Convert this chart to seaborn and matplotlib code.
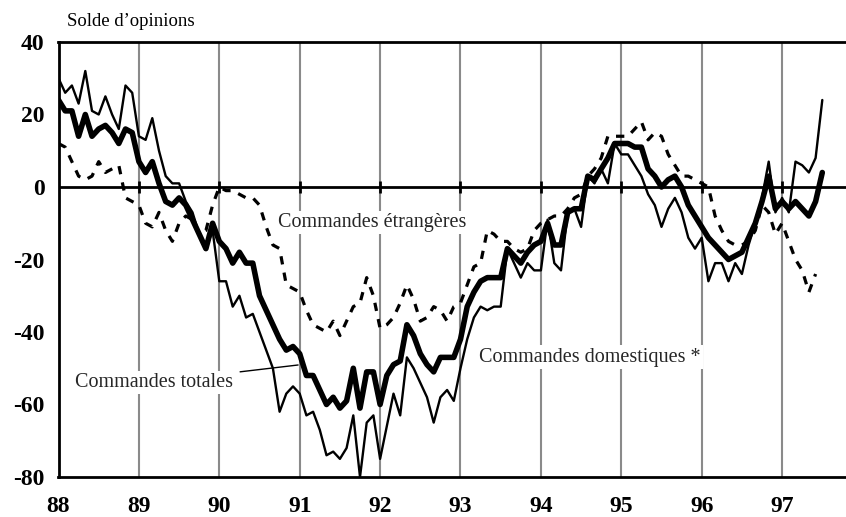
import matplotlib
matplotlib.use("Agg")
import matplotlib.pyplot as plt
import numpy as np
import pandas as pd
import seaborn as sns

# ── Data (monthly balances of opinion, Jan 1988 → mid 1997) ──────────────────
start_year = 88
total_orders = [
    24, 21, 21, 14, 20, 14, 16, 17, 15, 12, 16, 15,
    7, 4, 7, 1, -4, -5, -3, -5, -9, -13, -17, -10,
    -15, -17, -21, -18, -21, -21, -30, -34, -38, -42, -45, -44,
    -46, -52, -52, -56, -60, -58, -61, -59, -50, -61, -51, -51,
    -60, -52, -49, -48, -38, -41, -46, -49, -51, -47, -47, -47,
    -42, -33, -29, -26, -25, -25, -25, -17, -19, -21, -18, -16,
    -15, -10, -16, -16, -7, -6, -6, 3, 2, 5, 8, 12,
    12, 12, 11, 11, 5, 3, 0, 2, 3, 0, -5, -8,
    -11, -14, -16, -18, -20, -19, -18, -14, -10, -4, 3, -6,
    -4, -6, -4, -6, -8, -4, 4,
]
domestic_orders = [
    30, 26, 28, 23, 32, 21, 20, 25, 20, 16, 28, 26,
    14, 13, 19, 10, 3, 1, 1, -4, -7, -13, -17, -12,
    -26, -26, -33, -30, -36, -35, -40, -45, -50, -62, -57, -55,
    -57, -63, -62, -67, -74, -73, -75, -72, -63, -80, -65, -63,
    -75, -66, -57, -63, -47, -50, -54, -58, -65, -58, -56, -59,
    -50, -42, -36, -33, -34, -33, -33, -17, -21, -25, -21, -23,
    -23, -9, -21, -23, -7, -6, -11, 3, 1, 5, 1, 12,
    9, 9, 6, 3, -2, -5, -11, -6, -3, -7, -14, -17,
    -14, -26, -21, -21, -26, -21, -24, -16, -10, -3, 7, -7,
    -3, -7, 7, 6, 4, 8, 24,
]
foreign_orders = [
    12, 11, 7, 3, 2, 3, 7, 4, 5, 6, -3, -4,
    -5, -10, -11, -7, -12, -15, -10, -8, -9, -13, -12, -5,
    0, -1, -1, -2, -3, -3, -5, -11, -16, -17, -27, -28,
    -29, -34, -38, -39, -40, -37, -41, -37, -33, -32, -25, -30,
    -39, -38, -36, -32, -27, -31, -37, -36, -33, -34, -37, -33,
    -32, -27, -22, -21, -12, -13, -15, -15, -17, -18, -17, -12,
    -10, -9, -8, -8, -6, -3, -2, 3, 5, 8, 14, 14,
    14, 14, 16, 18, 13, 15, 14, 9, 6, 3, 3, 2,
    1, 0, -8, -12, -15, -16, -16, -15, -12, -5, -7, -13,
    -10, -15, -20, -23, -29, -24,
]
year_ticks = list(range(88, 98))
y_ticks = [-80, -60, -40, -20, 0, 20, 40]


def to_frame(values):
    months = np.arange(len(values))
    return pd.DataFrame({"t": start_year + months / 12.0, "v": values})


df_tot = to_frame(total_orders)
df_dom = to_frame(domestic_orders)
df_for = to_frame(foreign_orders)

# ── Style ────────────────────────────────────────────────────────────────────
sns.set_theme(style="white")
plt.rcParams["font.family"] = ["Liberation Serif", "DejaVu Serif"]

W, H = 846, 517
fig = plt.figure(figsize=(W / 100, H / 100), dpi=100)
fig.patch.set_facecolor("white")
ax = fig.add_axes([58.5 / W, 40 / H, (W - 58.5) / W, 435 / H])
ax.set_facecolor("white")

# year gridlines + zero line
for yr in year_ticks[1:]:
    ax.axvline(yr, color="#8a8a8a", lw=1.5, zorder=0)
ax.axhline(0, color="black", lw=2, zorder=1)
ax.plot(year_ticks, [0] * len(year_ticks), ls="none", marker="|",
        ms=8, mew=2, color="black", zorder=1)

# series
sns.lineplot(data=df_for, x="t", y="v", ax=ax, color="black", lw=2.3,
             dashes=False, linestyle=(0, (2.6, 2.6)), estimator=None,
             zorder=2)
sns.lineplot(data=df_dom, x="t", y="v", ax=ax, color="black", lw=1.7,
             estimator=None, zorder=3)
sns.lineplot(data=df_tot, x="t", y="v", ax=ax, color="black", lw=4.0,
             estimator=None, zorder=4)

ax.set_xlim(88, 88 + (W - 58.5) / 80.4)
ax.set_ylim(-80, 40)
ax.set_xlabel("")
ax.set_ylabel("")

ax.set_yticks(y_ticks)
ax.set_yticklabels([str(v) for v in y_ticks])
ax.set_xticks(year_ticks)
ax.set_xticklabels([str(v) for v in year_ticks])
ax.tick_params(axis="y", direction="in", length=4, width=1.8, pad=10,
               labelsize=17, colors="black")
ax.tick_params(axis="x", length=0, pad=14, labelsize=17, colors="black")
for lab in ax.get_xticklabels() + ax.get_yticklabels():
    lab.set_fontweight("bold")

for side in ["left", "top", "bottom"]:
    ax.spines[side].set_visible(True)
    ax.spines[side].set_color("black")
    ax.spines[side].set_linewidth(2)
ax.spines["right"].set_visible(False)

# labels
box = dict(facecolor="white", edgecolor="none", pad=1.5)
ax.text(90.73, -9.7, "Commandes étrangères", fontsize=14.5, ha="left",
        va="center", bbox=box, zorder=6)
ax.text(93.23, -46.9, "Commandes domestiques *", fontsize=14.5, ha="left",
        va="center", bbox=box, zorder=6)
ax.annotate("Commandes totales", xy=(90.98, -49.1), xytext=(88.2, -53.8),
            fontsize=14.5, ha="left", va="center", bbox=box, zorder=6,
            arrowprops=dict(arrowstyle="-", color="black", lw=1,
                            shrinkA=4, shrinkB=0))

fig.text(67 / W, 1 - 22 / H, "Solde d\u2019opinions", fontsize=13.5,
         ha="left", va="center", color="black")

fig.savefig("out.png", dpi=100, facecolor="white")
